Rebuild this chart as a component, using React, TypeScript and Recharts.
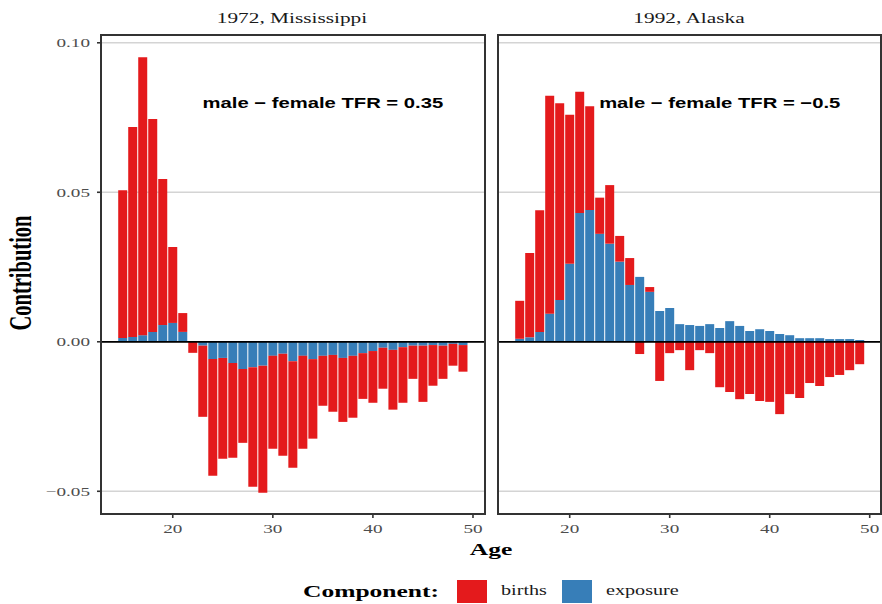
import { BarChart, Bar, XAxis, YAxis, CartesianGrid, ReferenceLine, ReferenceDot } from "recharts";

// --- Data: decomposition of male - female TFR by age ---

const AGES = [
  15, 16, 17, 18, 19, 20, 21, 22, 23, 24, 25, 26, 27, 28, 29, 30, 31, 32,
  33, 34, 35, 36, 37, 38, 39, 40, 41, 42, 43, 44, 45, 46, 47, 48, 49,
];

const MS_BIRTHS = [
  0.0494, 0.0702, 0.093, 0.0712, 0.0488, 0.0254, 0.0063, -0.0037, -0.0238,
  -0.039, -0.0337, -0.0317, -0.0247, -0.04, -0.0425, -0.0311, -0.0341,
  -0.0356, -0.0311, -0.0266, -0.0167, -0.019, -0.0214, -0.0207, -0.0153,
  -0.0173, -0.0137, -0.02, -0.0186, -0.0111, -0.0188, -0.0136, -0.0111,
  -0.0073, -0.0089,
];
const MS_EXPOSURE = [
  0.0013, 0.0016, 0.0022, 0.0033, 0.0056, 0.0063, 0.0033, 0.0, -0.0013,
  -0.0058, -0.0054, -0.0071, -0.0091, -0.0085, -0.008, -0.0047, -0.004,
  -0.0065, -0.0047, -0.0058, -0.0047, -0.0044, -0.0054, -0.0047, -0.0038,
  -0.0031, -0.002, -0.0027, -0.0018, -0.0013, -0.0013, -0.0011, -0.0013,
  -0.0007, -0.0011,
];

const AK_BIRTHS = [
  0.0127, 0.0282, 0.0407, 0.0729, 0.0658, 0.0498, 0.0405, 0.0347, 0.0121,
  0.0196, 0.0086, 0.009, -0.0041, 0.0016, -0.0131, -0.0038, -0.0028,
  -0.0095, -0.0028, -0.0038, -0.0152, -0.0168, -0.0192, -0.0175, -0.0198,
  -0.0201, -0.0242, -0.0175, -0.0188, -0.0138, -0.0148, -0.0118, -0.0111,
  -0.0095, -0.0075,
];
const AK_EXPOSURE = [
  0.001, 0.0015, 0.0033, 0.0094, 0.014, 0.0261, 0.0431, 0.0441, 0.0361,
  0.0328, 0.0268, 0.019, 0.0217, 0.0167, 0.0103, 0.0113, 0.0059, 0.0056,
  0.0053, 0.0059, 0.0046, 0.0069, 0.0053, 0.0036, 0.0042, 0.0036, 0.0026,
  0.0022, 0.0012, 0.0012, 0.0012, 0.0009, 0.0009, 0.0009, 0.0006,
];

const Y_TICKS = [-0.05, 0, 0.05, 0.1];
const X_TICKS = [20, 30, 40, 50];
const PANEL_TITLES = ["1972, Mississippi", "1992, Alaska"];
const TFR_LABELS = ["male \u2212 female TFR = 0.35", "male \u2212 female TFR = \u22120.5"];
const TFR_LABEL_POS = { age: 35, value: 0.08 };

// --- Styling ---

const RED = "#E41A1C";
const BLUE = "#377EB8";
const SERIF = "'Liberation Serif', 'Times New Roman', serif";
const SANS = "'Liberation Sans', Arial, sans-serif";
const TICK_COLOR = "#4d4d4d";
const BORDER_COLOR = "#333333";

const X_DOMAIN: [number, number] = [12.83, 51.2];
const Y_DOMAIN: [number, number] = [-0.0576, 0.1026];

const CHART_HEIGHT = 545;
const PLOT_TOP = 35;
const PLOT_HEIGHT = 479;
const STRETCH = 1.5;
const TICK_FONT = 13.5;
const TICK_STRETCH = 1.42;

const buildRows = (births: number[], exposure: number[]) =>
  AGES.map((age, i) => ({ age, births: births[i], exposure: exposure[i] }));

const fmtY = (v: number) => (v < 0 ? "\u2212" : "") + Math.abs(v).toFixed(2);

function YTick({ x, y, payload }: any) {
  const tx = x - 5;
  return (
    <text
      x={0}
      y={0}
      transform={`translate(${tx},${y}) scale(${TICK_STRETCH},1)`}
      textAnchor="end"
      dominantBaseline="central"
      fontFamily={SERIF}
      fontSize={TICK_FONT}
      fill={TICK_COLOR}
    >
      {fmtY(payload.value)}
    </text>
  );
}

function XTick({ x, y, payload }: any) {
  return (
    <text
      x={0}
      y={0}
      transform={`translate(${x},${y + 9}) scale(${TICK_STRETCH},1)`}
      textAnchor="middle"
      dominantBaseline="central"
      fontFamily={SERIF}
      fontSize={TICK_FONT}
      fill={TICK_COLOR}
    >
      {payload.value}
    </text>
  );
}

function TfrLabel({ viewBox, text }: any) {
  const cx = viewBox.x + (viewBox.width || 0) / 2;
  const cy = viewBox.y + (viewBox.height || 0) / 2;
  return (
    <text
      x={0}
      y={0}
      transform={`translate(${cx},${cy}) scale(1.35,1)`}
      textAnchor="middle"
      dominantBaseline="central"
      fontFamily={SANS}
      fontWeight="bold"
      fontSize={15}
      fill="#000"
    >
      {text}
    </text>
  );
}

function Panel({
  rows,
  width,
  left,
  showY,
  label,
  domain,
}: {
  rows: any[];
  width: number;
  left: number;
  showY: boolean;
  label: string;
  domain: [number, number];
}) {
  return (
    <div style={{ position: "absolute", left, top: 0 }}>
      <BarChart
        width={width}
        height={CHART_HEIGHT}
        data={rows}
        stackOffset="sign"
        barCategoryGap="5%"
        margin={{ top: PLOT_TOP, right: showY ? 5 : 0, bottom: 1, left: 0 }}
      >
        <CartesianGrid vertical={false} stroke="#d4d4d4" strokeWidth={1.6} />
        <XAxis
          dataKey="age"
          type="number"
          domain={domain}
          allowDataOverflow
          ticks={X_TICKS}
          height={30}
          axisLine={false}
          tickSize={4}
          tickLine={{ stroke: BORDER_COLOR, strokeWidth: 1.6 }}
          tick={<XTick />}
        />
        <YAxis
          type="number"
          domain={Y_DOMAIN}
          allowDataOverflow
          ticks={Y_TICKS}
          width={showY ? 101 : 0}
          hide={!showY}
          axisLine={false}
          tickSize={4}
          tickLine={{ stroke: BORDER_COLOR, strokeWidth: 1.6 }}
          tick={<YTick />}
        />
        <Bar dataKey="exposure" stackId="c" fill={BLUE} isAnimationActive={false} />
        <Bar dataKey="births" stackId="c" fill={RED} isAnimationActive={false} />
        <ReferenceLine y={0} stroke="#000" strokeWidth={1.8} />
        <ReferenceDot
          x={TFR_LABEL_POS.age}
          y={TFR_LABEL_POS.value}
          r={0}
          fill="none"
          stroke="none"
          label={(p: any) => <TfrLabel {...p} text={label} />}
        />
      </BarChart>
    </div>
  );
}

const textBase: React.CSSProperties = {
  position: "absolute",
  whiteSpace: "nowrap",
  fontFamily: SERIF,
  lineHeight: 1,
};

export default function App() {
  const msRows = buildRows(MS_BIRTHS, MS_EXPOSURE);
  const akRows = buildRows(AK_BIRTHS, AK_EXPOSURE);

  return (
    <div
      style={{
        position: "absolute",
        left: 0,
        top: 0,
        width: 882,
        height: 604,
        background: "#fff",
        overflow: "hidden",
      }}
    >
      <Panel rows={msRows} width={490} left={0} showY label={TFR_LABELS[0]} domain={X_DOMAIN} />
      <Panel rows={akRows} width={383} left={498} showY={false} label={TFR_LABELS[1]} domain={[12.83, 51.13]} />

      {/* panel borders */}
      <div
        style={{
          position: "absolute",
          left: 100,
          top: PLOT_TOP - 1,
          width: 386,
          height: PLOT_HEIGHT + 2,
          border: `2px solid ${BORDER_COLOR}`,
          boxSizing: "border-box",
          pointerEvents: "none",
        }}
      />
      <div
        style={{
          position: "absolute",
          left: 497,
          top: PLOT_TOP - 1,
          width: 385,
          height: PLOT_HEIGHT + 2,
          border: `2px solid ${BORDER_COLOR}`,
          boxSizing: "border-box",
          pointerEvents: "none",
        }}
      />

      {/* strip titles */}
      {PANEL_TITLES.map((t, i) => (
        <div
          key={t}
          style={{
            ...textBase,
            left: i === 0 ? 292 : 689,
            top: 18,
            fontSize: 14.5,
            color: "#1a1a1a",
            transform: `translate(-50%, -50%) scaleX(1.47)`,
          }}
        >
          {t}
        </div>
      ))}

      {/* axis titles */}
      <div
        style={{
          ...textBase,
          left: 21,
          top: 273,
          fontSize: 20.5,
          fontWeight: "bold",
          color: "#000",
          transform: `translate(-50%, -50%) rotate(-90deg) scaleY(${STRETCH})`,
        }}
      >
        Contribution
      </div>
      <div
        style={{
          ...textBase,
          left: 491,
          top: 549,
          fontSize: 17,
          fontWeight: "bold",
          color: "#000",
          transform: `translate(-50%, -50%) scaleX(${STRETCH})`,
        }}
      >
        Age
      </div>

      {/* legend */}
      <div
        style={{
          ...textBase,
          left: 303,
          top: 591,
          fontSize: 17,
          fontWeight: "bold",
          color: "#000",
          transformOrigin: "left center",
          transform: `translateY(-50%) scaleX(${STRETCH})`,
        }}
      >
        Component:
      </div>
      <div style={{ position: "absolute", left: 457, top: 580, width: 30, height: 23, background: RED }} />
      <div
        style={{
          ...textBase,
          left: 501,
          top: 591,
          fontSize: 14,
          color: "#1a1a1a",
          transformOrigin: "left center",
          transform: `translateY(-50%) scaleX(1.44)`,
        }}
      >
        births
      </div>
      <div style={{ position: "absolute", left: 562, top: 580, width: 30, height: 23, background: BLUE }} />
      <div
        style={{
          ...textBase,
          left: 606,
          top: 591,
          fontSize: 14,
          color: "#1a1a1a",
          transformOrigin: "left center",
          transform: `translateY(-50%) scaleX(1.44)`,
        }}
      >
        exposure
      </div>
    </div>
  );
}
